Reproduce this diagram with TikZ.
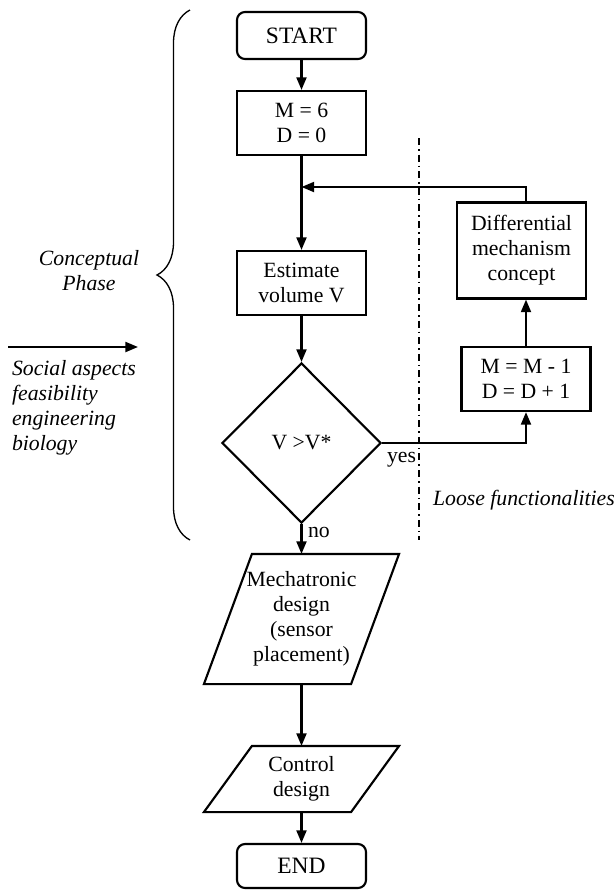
\documentclass[tikz,border=0pt]{standalone}
\usepackage{fontspec}
\setmainfont{Liberation Serif}
\usetikzlibrary{arrows.meta}
\usetikzlibrary{calc}
\usetikzlibrary{decorations.pathreplacing}
\usetikzlibrary{shapes.geometric}

\begin{document}
\begin{tikzpicture}[x=0.75pt, y=0.75pt,
    font=\fontsize{16.3}{18.75}\selectfont,
    line width=1.6pt,
    >={Triangle[length=9.5pt, width=7.5pt]},
    terminal/.style={draw, rounded corners=6pt, minimum width=96.75pt, minimum height=35.25pt, inner sep=0pt, font=\fontsize{17.6}{20}\selectfont},
    process/.style={draw, minimum width=96.75pt, minimum height=48pt, align=center, inner sep=0pt},
    decision/.style={draw, diamond, minimum width=119.25pt, minimum height=120pt, inner sep=0pt},
    slanted/.style={minimum width=144.75pt, align=center, inner sep=0pt},
    remark/.style={font=\fontsize{16.3}{18.75}\selectfont\itshape, inner sep=0pt}]
    \useasboundingbox (0, 0) rectangle (616, -890);

    \node [terminal] (start) at (301.5, -35.5) {START};
    \node [process] (init) at (301.5, -123) {M = 6\\D = 0};
    \node [process] (est) at (301.5, -283) {Estimate\\volume V};
    \node [decision] (cond) at (301.5, -443) {V >V*};
    \node [process, minimum height=72pt] (diff) at (521.5, -250.5) {Differential\\mechanism\\concept};
    \node [process] (dec) at (526, -379) {M = M - 1\\D = D + 1};
    \node [slanted, minimum height=96pt] (mech) at (301.5, -619) {Mechatronic\\design\\(sensor\\placement)};
    \node [slanted, minimum height=48pt] (ctrl) at (301.5, -779) {Control\\design};
    \node [terminal, minimum height=33pt] (stop) at (301.5, -866) {END};

    \draw ($(mech.north west)+(48, 0)$) -- (mech.north east) -- ($(mech.south east)+(-48, 0)$) -- (mech.south west) -- cycle;
    \draw ($(ctrl.north west)+(48, 0)$) -- (ctrl.north east) -- ($(ctrl.south east)+(-48, 0)$) -- (ctrl.south west) -- cycle;

    \coordinate (fb) at (301.5, -187);
    \draw [->] (start) -- (init);
    \draw [->] (init) -- (est);
    \draw [->] (est) -- (cond);
    \draw [->] (cond) -- (mech);
    \draw [->] (mech) -- (ctrl);
    \draw [->] (ctrl) -- (stop);
    \draw [->] (cond.east) -| (dec.south);
    \draw [->] (dec.north) -- (dec.north |- diff.south);
    \draw [->] (dec.north |- diff.north) |- (fb);

    \node [anchor=base west, inner sep=0pt] (yes) at (386, -462) {yes};
    \node [anchor=base west, inner sep=0pt] (no) at (307, -537) {no};

    \coordinate (sepTop) at (419, -138);
    \coordinate (sepBot) at (419, -540);
    \draw [line width=1pt, dash pattern=on 5.25pt off 3pt on 1.2pt off 3pt] (sepTop) -- (sepBot);
    \node [remark, anchor=base west] (loose) at (432, -505) {Loose functionalities};

    \coordinate (braceTop) at (190, -10);
    \coordinate (braceBot) at (190, -540);
    \draw [line width=1pt, decorate, decoration={brace, amplitude=24.75pt}] (braceBot) -- (braceTop);
    \node [remark, align=center] (phase) at (89, -270.5) {Conceptual\\Phase};

    \coordinate (inTail) at (8, -347);
    \coordinate (inHead) at (138, -347);
    \draw [->] (inTail) -- (inHead);
    \node [remark, align=left, anchor=west] (aspects) at (11, -408) {Social aspects\\feasibility\\engineering\\biology};
\end{tikzpicture}
\end{document}
